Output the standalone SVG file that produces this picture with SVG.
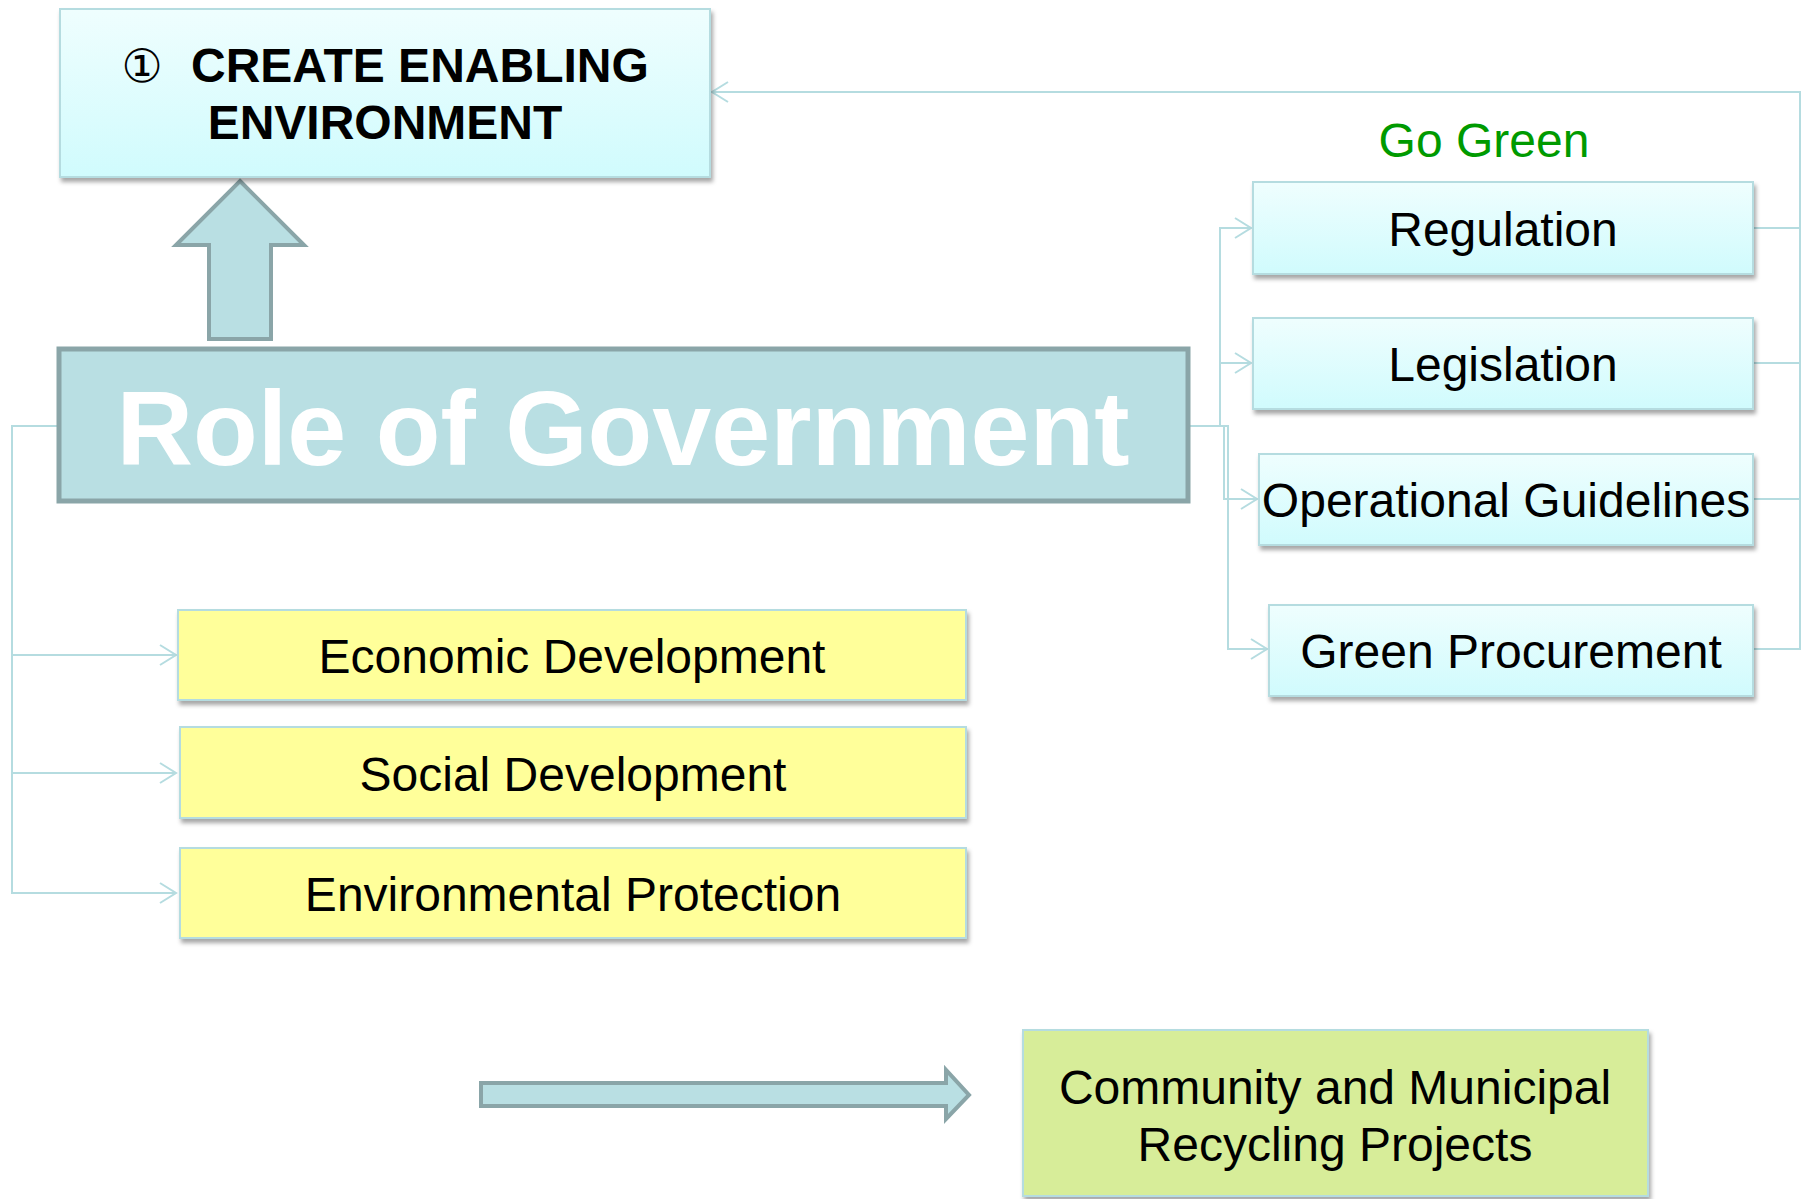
<svg xmlns="http://www.w3.org/2000/svg" width="1804" height="1199" viewBox="0 0 1804 1199">
<style>
.box{stroke:#B5DCE0;stroke-width:2;filter:url(#sh)}
.cyan{fill:url(#cg)}
.yel{fill:#FFFF9A}
.lime{fill:#D7ED99}
.t{font-family:"Liberation Sans",Arial,sans-serif;font-size:48px;fill:#000;text-anchor:middle}
.conn{fill:none;stroke:#B5DCE0;stroke-width:2}
.fat{fill:#B9DFE3;stroke:#8AA5A8;stroke-width:4}
</style>
<defs>
<linearGradient id="cg" x1="0" y1="0" x2="0" y2="1">
<stop offset="0" stop-color="#EFFEFE"/>
<stop offset="1" stop-color="#D0FBFD"/>
</linearGradient>
<filter id="sh" x="-5%" y="-10%" width="110%" height="130%">
<feDropShadow dx="2" dy="4" stdDeviation="2" flood-color="#000" flood-opacity="0.35"/>
</filter>
<marker id="ah" markerUnits="userSpaceOnUse" markerWidth="20" markerHeight="22" refX="17" refY="11" orient="auto">
<path d="M1,1 L17,11 L1,21" fill="none" stroke="#B5DCE0" stroke-width="2"/>
</marker>
</defs>

<g id="connectors">
<path class="conn" d="M59,426 H12 V655 H176" marker-end="url(#ah)"/>
<path class="conn" d="M12,655 V773 H176" marker-end="url(#ah)"/>
<path class="conn" d="M12,773 V893 H176" marker-end="url(#ah)"/>
<path class="conn" d="M1188,426 H1220 V228 H1251" marker-end="url(#ah)"/>
<path class="conn" d="M1220,426 V363 H1251" marker-end="url(#ah)"/>
<path class="conn" d="M1220,426 H1224 V499 H1257" marker-end="url(#ah)"/>
<path class="conn" d="M1224,426 H1228 V649 H1267" marker-end="url(#ah)"/>
<path class="conn" d="M1753,228 H1800 V92 H712" marker-end="url(#ah)"/>
<path class="conn" d="M1753,363 H1800"/>
<path class="conn" d="M1753,499 H1800"/>
<path class="conn" d="M1753,649 H1800 V228"/>
</g>

<g id="up-arrow">
<path class="fat" d="M240,181 L304,245 L271,245 L271,339 L209,339 L209,245 L176,245 Z"/>
</g>

<g id="right-arrow">
<path class="fat" d="M481,1083 L946,1083 L946,1070 L969,1095 L946,1119 L946,1106 L481,1106 Z"/>
</g>

<g id="create-enabling">
<rect class="box cyan" x="60" y="9" width="650" height="168"/>
<text x="142" y="82" style="font-family:'DejaVu Sans',sans-serif;font-size:46px;fill:#000;text-anchor:middle">①</text>
<text x="191" y="82" style="font-family:'Liberation Sans',Arial,sans-serif;font-size:48px;font-weight:bold;fill:#000">CREATE ENABLING</text>
<text x="385" y="139" style="font-family:'Liberation Sans',Arial,sans-serif;font-size:48px;font-weight:bold;fill:#000;text-anchor:middle">ENVIRONMENT</text>
</g>

<g id="role-of-government">
<rect x="59" y="349" width="1129" height="152" fill="#B9DFE3" stroke="#8AA5A8" stroke-width="5"/>
<text x="623" y="465" style="font-family:'Liberation Sans',Arial,sans-serif;font-size:106px;font-weight:bold;fill:#fff;text-anchor:middle">Role of Government</text>
</g>

<g id="go-green">
<text x="1484" y="157" class="t" style="fill:#009A00">Go Green</text>
</g>

<g id="regulation">
<rect class="box cyan" x="1253" y="182" width="500" height="92"/>
<text x="1503" y="246" class="t">Regulation</text>
</g>
<g id="legislation">
<rect class="box cyan" x="1253" y="318" width="500" height="91"/>
<text x="1503" y="381" class="t">Legislation</text>
</g>
<g id="operational-guidelines">
<rect class="box cyan" x="1259" y="454" width="494" height="91"/>
<text x="1506" y="517" class="t">Operational Guidelines</text>
</g>
<g id="green-procurement">
<rect class="box cyan" x="1269" y="605" width="484" height="91"/>
<text x="1511" y="668" class="t">Green Procurement</text>
</g>

<g id="economic-development">
<rect class="box yel" x="178" y="610" width="788" height="90"/>
<text x="572" y="673" class="t">Economic Development</text>
</g>
<g id="social-development">
<rect class="box yel" x="180" y="727" width="786" height="91"/>
<text x="573" y="791" class="t">Social Development</text>
</g>
<g id="environmental-protection">
<rect class="box yel" x="180" y="848" width="786" height="90"/>
<text x="573" y="911" class="t">Environmental Protection</text>
</g>

<g id="community-recycling">
<rect class="box lime" x="1023" y="1030" width="625" height="166"/>
<text x="1335" y="1104" class="t">Community and Municipal</text>
<text x="1335" y="1161" class="t">Recycling Projects</text>
</g>
</svg>
